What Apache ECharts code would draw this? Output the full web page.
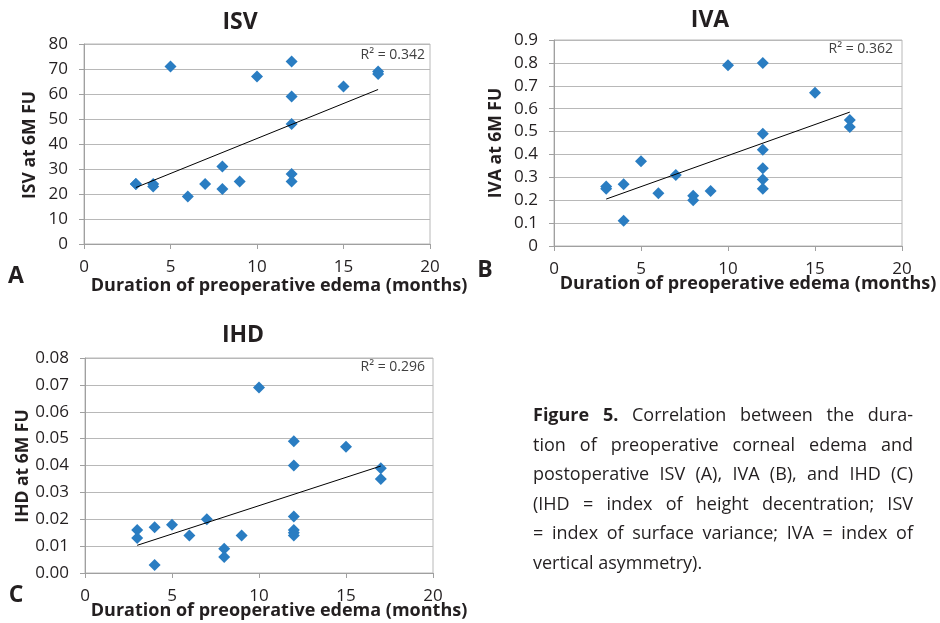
<!DOCTYPE html>
<html>
<head>
<meta charset="utf-8">
<script src="https://cdn.jsdelivr.net/npm/echarts@6/dist/echarts.min.js"></script>
<style>
html,body{margin:0;padding:0;background:#fff;}
#chart{width:940px;height:623px;position:absolute;left:0;top:0;}
#caption{position:absolute;left:533px;top:400px;width:380px;font-family:"Open Sans",sans-serif;font-size:18px;color:#231f20;}
#caption div{height:29.6px;line-height:29.6px;white-space:nowrap;text-align:justify;text-align-last:justify;}
#caption div.last{text-align-last:left;}
</style>
</head>
<body>
<div id="chart"></div>
<div id="caption">
<div><b>Figure 5.</b> Correlation between the dura-</div>
<div>tion of preoperative corneal edema and</div>
<div>postoperative ISV (A), IVA (B), and IHD (C)</div>
<div>(IHD = index of height decentration; ISV</div>
<div>= index of surface variance; IVA = index of</div>
<div class="last">vertical asymmetry).</div>
</div>
<script>
// ---- data ----
const isvDuration = [3, 3, 4, 4, 5, 6, 7, 8, 8, 9, 10, 12, 12, 12, 12, 12, 15, 17, 17];
const isvValues   = [24, 24, 24, 23, 71, 19, 24, 31, 22, 25, 67, 73, 59, 48, 28, 25, 63, 69, 68];
const isvTrend    = [[3, 22.6], [17, 61.8]];
const isvR2 = 'R² = 0.342';

const ivaDuration = [3, 3, 4, 4, 5, 6, 7, 8, 8, 9, 10, 12, 12, 12, 12, 12, 12, 15, 17, 17];
const ivaValues   = [0.26, 0.25, 0.27, 0.11, 0.37, 0.23, 0.31, 0.22, 0.20, 0.24, 0.79, 0.80, 0.49, 0.42, 0.34, 0.29, 0.25, 0.67, 0.55, 0.52];
const ivaTrend    = [[3, 0.205], [17, 0.585]];
const ivaR2 = 'R² = 0.362';

const ihdDuration = [3, 3, 4, 4, 5, 6, 7, 8, 8, 9, 10, 12, 12, 12, 12, 12, 12, 15, 17, 17];
const ihdValues   = [0.016, 0.013, 0.017, 0.003, 0.018, 0.014, 0.020, 0.009, 0.006, 0.014, 0.069, 0.049, 0.040, 0.021, 0.016, 0.015, 0.014, 0.047, 0.039, 0.035];
const ihdTrend    = [[3, 0.0103], [17, 0.0398]];
const ihdR2 = 'R² = 0.296';

const xTicks = [0, 5, 10, 15, 20];
const titles = ['ISV', 'IVA', 'IHD'];
const yNames = ['ISV at 6M FU', 'IVA at 6M FU', 'IHD at 6M FU'];
const xName = 'Duration of preoperative edema (months)';
const panelLetters = ['A', 'B', 'C'];

// ---- chart ----
const FONT = '"Open Sans", sans-serif';
const TXT = '#231f20';
const MARK = '#2a7dc2';
const GRIDC = '#b8b8b8';
const AXC = '#a0a0a0';

function pairs(xs, ys) { return xs.map((x, i) => [x, ys[i]]); }

const grids = [
  {left: 84, top: 44, width: 346, height: 200},
  {left: 554, top: 40, width: 348, height: 206},
  {left: 85, top: 358, width: 348, height: 215}
];
const yCfg = [
  {max: 80, interval: 10, fmt: v => String(v)},
  {max: 0.9, interval: 0.1, fmt: v => v === 0 ? '0' : v.toFixed(1)},
  {max: 0.08, interval: 0.01, fmt: v => v.toFixed(2)}
];

const xAxes = grids.map((g, i) => ({
  type: 'value', gridIndex: i, min: 0, max: 20, interval: 5,
  axisLine: {show: true, lineStyle: {color: AXC}},
  axisTick: {show: true, length: 5, lineStyle: {color: AXC}},
  splitLine: {show: false},
  axisLabel: {color: TXT, fontFamily: FONT, fontSize: 17, margin: 15,
    formatter: v => xTicks.includes(v) ? String(v) : ''}
}));
const yAxes = grids.map((g, i) => ({
  type: 'value', gridIndex: i, min: 0, max: yCfg[i].max, interval: yCfg[i].interval,
  axisLine: {show: true, lineStyle: {color: AXC}},
  axisTick: {show: true, length: 5, lineStyle: {color: AXC}},
  splitLine: {show: true, lineStyle: {color: GRIDC, width: 1}},
  axisLabel: {color: TXT, fontFamily: FONT, fontSize: 17, margin: 16, formatter: yCfg[i].fmt}
}));

const scatterData = [pairs(isvDuration, isvValues), pairs(ivaDuration, ivaValues), pairs(ihdDuration, ihdValues)];
const trends = [isvTrend, ivaTrend, ihdTrend];
const series = [];
scatterData.forEach((d, i) => {
  series.push({type: 'scatter', xAxisIndex: i, yAxisIndex: i, data: d, symbol: 'diamond', symbolSize: 12,
    itemStyle: {color: MARK, opacity: 1}, z: 3});
  series.push({type: 'line', xAxisIndex: i, yAxisIndex: i, data: trends[i], symbol: 'none',
    lineStyle: {color: '#000', width: 1}, z: 4, silent: true});
});

const r2 = [isvR2, ivaR2, ihdR2];
const graphics = [];
const titlePos = [[240, 22], [710, 20], [243, 335]];
const yNamePos = [[30, 145], [496, 143], [23, 466]];
const xNamePos = [[279, 286], [748, 284], [279, 611]];
const r2Pos = [[425, 55], [893, 49], [425, 367]];
const letterPos = [[16, 276], [485, 270], [16, 595]];
for (let i = 0; i < 3; i++) {
  graphics.push({type: 'text', x: titlePos[i][0], y: titlePos[i][1], z: 10,
    style: {text: titles[i], fill: TXT, font: 'bold 23px ' + FONT, align: 'center', verticalAlign: 'middle'}});
  graphics.push({type: 'text', x: yNamePos[i][0], y: yNamePos[i][1], rotation: Math.PI / 2, z: 10,
    style: {text: yNames[i], fill: TXT, font: 'bold 17.5px ' + FONT, align: 'center', verticalAlign: 'middle'}});
  graphics.push({type: 'text', x: xNamePos[i][0], y: xNamePos[i][1], z: 10,
    style: {text: xName, fill: TXT, font: 'bold 18px ' + FONT, align: 'center', verticalAlign: 'middle'}});
  graphics.push({type: 'text', x: r2Pos[i][0], y: r2Pos[i][1], z: 10,
    style: {text: r2[i], fill: '#404040', font: '14px ' + FONT, align: 'right', verticalAlign: 'middle'}});
  graphics.push({type: 'text', x: letterPos[i][0], y: letterPos[i][1], z: 10,
    style: {text: panelLetters[i], fill: TXT, font: 'bold 23px ' + FONT, align: 'center', verticalAlign: 'middle'}});
}

const chart = echarts.init(document.getElementById('chart'), null, {renderer: 'canvas'});
chart.setOption({
  animation: false,
  backgroundColor: '#fff',
  grid: grids.map(g => Object.assign({show: true, borderColor: GRIDC, borderWidth: 1, containLabel: false}, g)),
  xAxis: xAxes,
  yAxis: yAxes,
  series: series,
  graphic: graphics
});
</script>
</body>
</html>
